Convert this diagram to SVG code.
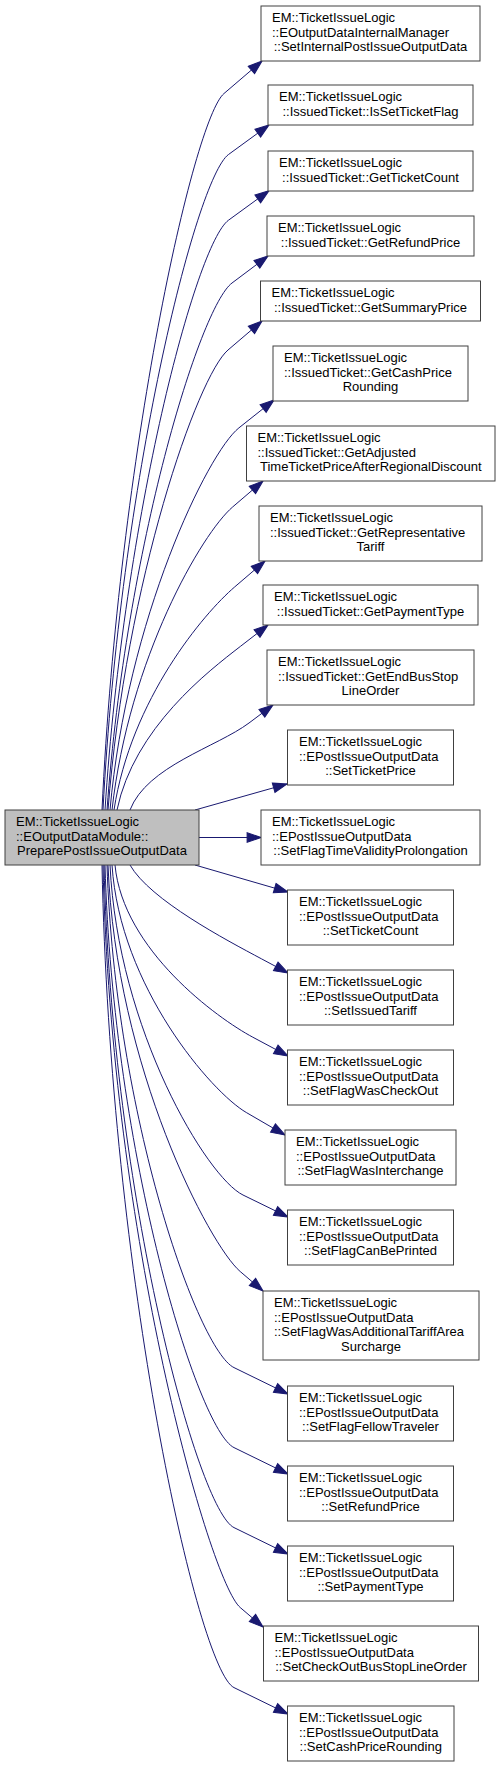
<svg xmlns="http://www.w3.org/2000/svg" width="500" height="1767" viewBox="0 0 500 1767">
<defs>
<style>
.n rect{fill:#ffffff;stroke:#404040;stroke-width:1}
.n.m rect{fill:#bfbfbf}
.n text{font-family:"Liberation Sans",Arial,Helvetica,sans-serif;font-size:13px;fill:#000}
.n text.c{text-anchor:middle}
.e path{fill:none;stroke:#191970;stroke-width:1;marker-end:url(#arr)}
</style>
<marker id="arr" markerUnits="userSpaceOnUse" markerWidth="16" markerHeight="12" viewBox="-1 -1 15 11" refX="13" refY="4.5" orient="auto">
<path d="M0,0 L13,4.5 L0,9 z" fill="#191970" stroke="#191970" stroke-width="1"/>
</marker>
</defs>
<rect width="500" height="1767" fill="#ffffff"/>
<g id="edges" class="e">
<path d="M102,810 C119,452 193.6,119.5 224,93.5 L262,61"/>
<path d="M103,810 C120,482 196.1,178.1 228.5,154.5 L269,125"/>
<path d="M105,810 C124,515 196.1,243.8 228.5,220.2 L269,190.7"/>
<path d="M107,810 C126,546 200,307 232,283 L268,256"/>
<path d="M108,810 C126,580 197.6,376 228,350 L262,321"/>
<path d="M110,810 C127,619 207.7,452.7 238.9,427.9 L274,400"/>
<path d="M112,810 C129,658 202.2,533 232.6,507 L263,481"/>
<path d="M114,810 C131,699 204.2,613 234.6,587 L265,561"/>
<path d="M117,810 C134,728 208.8,670.8 240.4,646.4 L268,625"/>
<path d="M130,810 C147,766 217,747 249,723 L273,705"/>
<path d="M195,810 L287,784"/>
<path d="M199,837.5 L261,837.5"/>
<path d="M195,865 L288,892"/>
<path d="M130,865 C150,900 226.4,940.1 261.6,958.9 L288,973"/>
<path d="M115,865 C123,950 217.6,1018.4 252.8,1037.2 L288,1056"/>
<path d="M112,865 C120,987 211.9,1092.5 246.3,1112.5 L285,1135"/>
<path d="M110,865 C118,1030 207,1177.4 243,1195 L288,1217"/>
<path d="M108,865 C116,1068 209.8,1245.5 240.2,1271.5 L263,1291"/>
<path d="M107,865 C115,1116 198,1350 234,1367.6 L288,1394"/>
<path d="M105,865 C113,1156 198,1430 234,1447.6 L288,1474"/>
<path d="M104,865 C112,1196 198,1510 234,1527.6 L288,1554"/>
<path d="M103,865 C111,1236 209.8,1581.5 240.2,1607.5 L263,1627"/>
<path d="M102,865 C110,1276 198,1670 234,1687.6 L288,1714"/>
</g>
<g id="main" class="n m">
<rect x="5" y="810" width="194" height="55"/>
<text x="16" y="826">EM::TicketIssueLogic</text>
<text x="16" y="840.5">::EOutputDataModule::</text>
<text class="c" x="102" y="855">PreparePostIssueOutputData</text>
</g>
<g id="n1" class="n">
<rect x="261" y="6" width="219" height="55"/>
<text x="272" y="22">EM::TicketIssueLogic</text>
<text x="272" y="36.5">::EOutputDataInternalManager</text>
<text class="c" x="370.5" y="51">::SetInternalPostIssueOutputData</text>
</g>
<g id="n2" class="n">
<rect x="268" y="85" width="205" height="40"/>
<text x="279" y="101">EM::TicketIssueLogic</text>
<text class="c" x="370.5" y="115.5">::IssuedTicket::IsSetTicketFlag</text>
</g>
<g id="n3" class="n">
<rect x="268" y="151" width="205" height="40"/>
<text x="279" y="167">EM::TicketIssueLogic</text>
<text class="c" x="370.5" y="181.5">::IssuedTicket::GetTicketCount</text>
</g>
<g id="n4" class="n">
<rect x="267" y="216" width="207" height="40"/>
<text x="278" y="232">EM::TicketIssueLogic</text>
<text class="c" x="370.5" y="246.5">::IssuedTicket::GetRefundPrice</text>
</g>
<g id="n5" class="n">
<rect x="260.5" y="281" width="220" height="40"/>
<text x="271.5" y="297">EM::TicketIssueLogic</text>
<text class="c" x="370.5" y="311.5">::IssuedTicket::GetSummaryPrice</text>
</g>
<g id="n6" class="n">
<rect x="273" y="346" width="195" height="55"/>
<text x="284" y="362">EM::TicketIssueLogic</text>
<text x="284" y="376.5">::IssuedTicket::GetCashPrice</text>
<text class="c" x="370.5" y="391">Rounding</text>
</g>
<g id="n7" class="n">
<rect x="246.5" y="426" width="248.5" height="55"/>
<text x="257.5" y="442">EM::TicketIssueLogic</text>
<text x="257.5" y="456.5">::IssuedTicket::GetAdjusted</text>
<text class="c" x="370.75" y="471">TimeTicketPriceAfterRegionalDiscount</text>
</g>
<g id="n8" class="n">
<rect x="259" y="506" width="223" height="55"/>
<text x="270" y="522">EM::TicketIssueLogic</text>
<text x="270" y="536.5">::IssuedTicket::GetRepresentative</text>
<text class="c" x="370.5" y="551">Tariff</text>
</g>
<g id="n9" class="n">
<rect x="263" y="585" width="215" height="40"/>
<text x="274" y="601">EM::TicketIssueLogic</text>
<text class="c" x="370.5" y="615.5">::IssuedTicket::GetPaymentType</text>
</g>
<g id="n10" class="n">
<rect x="267" y="650" width="207" height="55"/>
<text x="278" y="666">EM::TicketIssueLogic</text>
<text x="278" y="680.5">::IssuedTicket::GetEndBusStop</text>
<text class="c" x="370.5" y="695">LineOrder</text>
</g>
<g id="n11" class="n">
<rect x="287.5" y="730" width="166" height="55"/>
<text x="299" y="746">EM::TicketIssueLogic</text>
<text x="299" y="760.5">::EPostIssueOutputData</text>
<text class="c" x="370.5" y="775">::SetTicketPrice</text>
</g>
<g id="n12" class="n">
<rect x="261" y="810" width="219" height="55"/>
<text x="272" y="826">EM::TicketIssueLogic</text>
<text x="272" y="840.5">::EPostIssueOutputData</text>
<text class="c" x="370.5" y="855">::SetFlagTimeValidityProlongation</text>
</g>
<g id="n13" class="n">
<rect x="287.5" y="890" width="166" height="55"/>
<text x="299" y="906">EM::TicketIssueLogic</text>
<text x="299" y="920.5">::EPostIssueOutputData</text>
<text class="c" x="370.5" y="935">::SetTicketCount</text>
</g>
<g id="n14" class="n">
<rect x="287.5" y="970" width="166" height="55"/>
<text x="299" y="986">EM::TicketIssueLogic</text>
<text x="299" y="1000.5">::EPostIssueOutputData</text>
<text class="c" x="370.5" y="1015">::SetIssuedTariff</text>
</g>
<g id="n15" class="n">
<rect x="287.5" y="1050" width="166" height="55"/>
<text x="299" y="1066">EM::TicketIssueLogic</text>
<text x="299" y="1080.5">::EPostIssueOutputData</text>
<text class="c" x="370.5" y="1095">::SetFlagWasCheckOut</text>
</g>
<g id="n16" class="n">
<rect x="285" y="1130" width="171" height="55"/>
<text x="296" y="1146">EM::TicketIssueLogic</text>
<text x="296" y="1160.5">::EPostIssueOutputData</text>
<text class="c" x="370.5" y="1175">::SetFlagWasInterchange</text>
</g>
<g id="n17" class="n">
<rect x="287.5" y="1210" width="166" height="55"/>
<text x="299" y="1226">EM::TicketIssueLogic</text>
<text x="299" y="1240.5">::EPostIssueOutputData</text>
<text class="c" x="370.5" y="1255">::SetFlagCanBePrinted</text>
</g>
<g id="n18" class="n">
<rect x="263" y="1291" width="216" height="69"/>
<text x="274" y="1307">EM::TicketIssueLogic</text>
<text x="274" y="1321.5">::EPostIssueOutputData</text>
<text x="274" y="1336">::SetFlagWasAdditionalTariffArea</text>
<text class="c" x="371" y="1350.5">Surcharge</text>
</g>
<g id="n19" class="n">
<rect x="287.5" y="1386" width="166" height="55"/>
<text x="299" y="1402">EM::TicketIssueLogic</text>
<text x="299" y="1416.5">::EPostIssueOutputData</text>
<text class="c" x="370.5" y="1431">::SetFlagFellowTraveler</text>
</g>
<g id="n20" class="n">
<rect x="287.5" y="1466" width="166" height="55"/>
<text x="299" y="1482">EM::TicketIssueLogic</text>
<text x="299" y="1496.5">::EPostIssueOutputData</text>
<text class="c" x="370.5" y="1511">::SetRefundPrice</text>
</g>
<g id="n21" class="n">
<rect x="287.5" y="1546" width="166" height="55"/>
<text x="299" y="1562">EM::TicketIssueLogic</text>
<text x="299" y="1576.5">::EPostIssueOutputData</text>
<text class="c" x="370.5" y="1591">::SetPaymentType</text>
</g>
<g id="n22" class="n">
<rect x="263.5" y="1626" width="215" height="55"/>
<text x="274.5" y="1642">EM::TicketIssueLogic</text>
<text x="274.5" y="1656.5">::EPostIssueOutputData</text>
<text class="c" x="371" y="1671">::SetCheckOutBusStopLineOrder</text>
</g>
<g id="n23" class="n">
<rect x="287.5" y="1706" width="166.5" height="55"/>
<text x="299" y="1722">EM::TicketIssueLogic</text>
<text x="299" y="1736.5">::EPostIssueOutputData</text>
<text class="c" x="370.75" y="1751">::SetCashPriceRounding</text>
</g>
</svg>
